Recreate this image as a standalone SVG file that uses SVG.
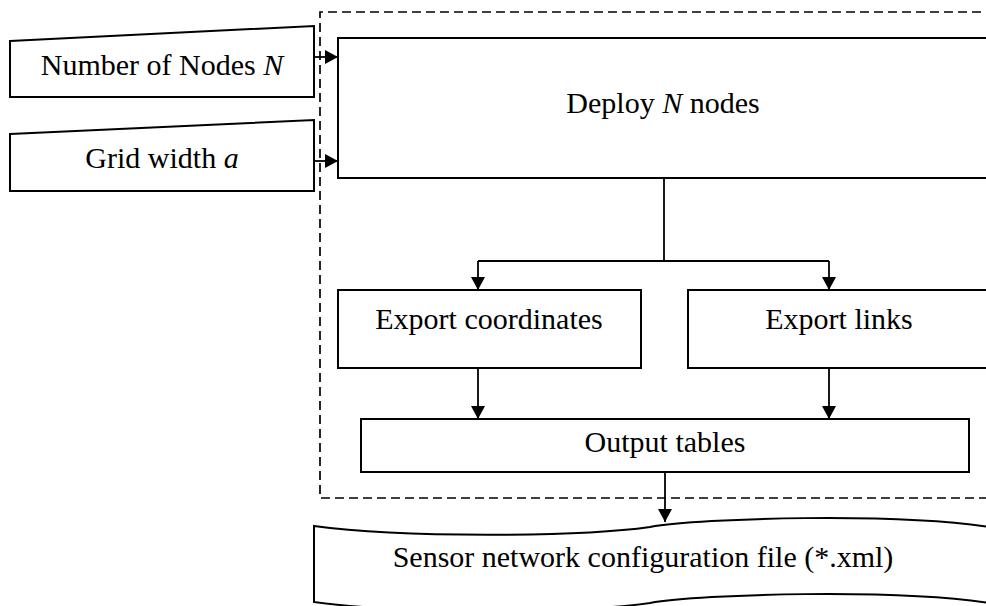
<svg xmlns="http://www.w3.org/2000/svg" width="986" height="606" viewBox="0 0 986 606">
<style>
  .box { fill: #fff; stroke: #000; stroke-width: 2; }
  .lbl { font-family: "Liberation Serif", "Times New Roman", serif; font-size: 30px; fill: #000; text-anchor: middle; }
  .it { font-style: italic; }
  .conn { fill: none; stroke: #000; stroke-width: 1.8; }
  .dash { fill: none; stroke: #000; stroke-width: 1.7; stroke-dasharray: 9 5; }
</style>
<defs>
  <marker id="arr" markerUnits="userSpaceOnUse" markerWidth="15" markerHeight="15" refX="13" refY="7" orient="auto">
    <path d="M0,0 L13,7 L0,14 z" fill="#000"/>
  </marker>
</defs>
<rect width="986" height="606" fill="#fff"/>
<path class="dash" d="M995,12 H320 V498 H995"/>

<g id="input-n">
  <polygon class="box" points="10,41 314,26 314,97 10,97"/>
  <text class="lbl" x="162" y="75">Number of Nodes <tspan class="it">N</tspan></text>
</g>
<g id="input-a">
  <polygon class="box" points="10,134 314,120 314,191 10,191"/>
  <text class="lbl" x="162" y="168">Grid width <tspan class="it">a</tspan></text>
</g>
<g id="deploy">
  <rect class="box" x="338" y="38" width="660" height="140"/>
  <text class="lbl" x="663" y="113">Deploy <tspan class="it">N</tspan> nodes</text>
</g>
<g id="export-coords">
  <rect class="box" x="338" y="290" width="303" height="78"/>
  <text class="lbl" x="489" y="329">Export coordinates</text>
</g>
<g id="export-links">
  <rect class="box" x="688" y="290" width="310" height="78"/>
  <text class="lbl" x="839" y="329">Export links</text>
</g>
<g id="output-tables">
  <rect class="box" x="361" y="419" width="608" height="53"/>
  <text class="lbl" x="665" y="452">Output tables</text>
</g>
<g id="config-file">
  <path class="box" d="M314,526 C400,538 580,537 650,527 C700,518 900,512 995,528 L995,604 C900,588 700,594 650,603 C580,613 400,614 314,602 Z"/>
  <text class="lbl" x="643" y="567">Sensor network configuration file (*.xml)</text>
</g>

<g id="connectors">
  <path class="conn" d="M314,57 H338" marker-end="url(#arr)"/>
  <path class="conn" d="M314,161 H338" marker-end="url(#arr)"/>
  <path class="conn" d="M664,178 V261 M478,261 H829"/>
  <path class="conn" d="M478,261 V290" marker-end="url(#arr)"/>
  <path class="conn" d="M829,261 V290" marker-end="url(#arr)"/>
  <path class="conn" d="M478,368 V419" marker-end="url(#arr)"/>
  <path class="conn" d="M829,368 V419" marker-end="url(#arr)"/>
  <path class="conn" d="M665,472 V522" marker-end="url(#arr)"/>
</g>
</svg>
